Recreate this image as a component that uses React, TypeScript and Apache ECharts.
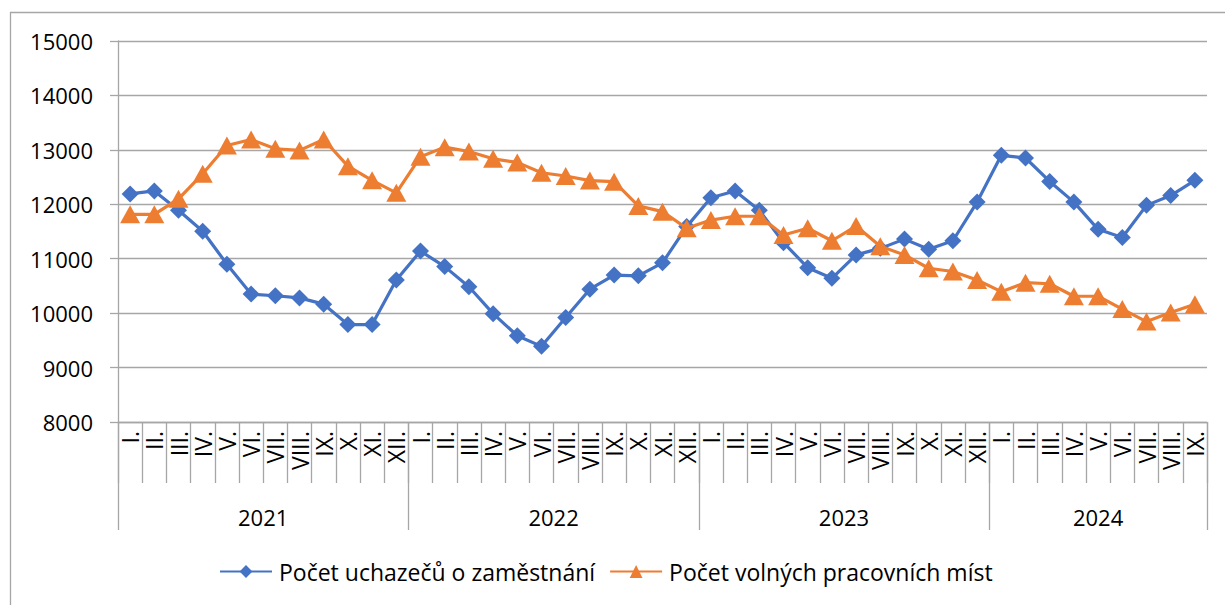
import React, { useEffect, useRef } from "react";
import * as echarts from "echarts";

const romanMonths = ["I.", "II.", "III.", "IV.", "V.", "VI.", "VII.", "VIII.", "IX.", "X.", "XI.", "XII."];
const years = ["2021", "2022", "2023", "2024"];
const monthsPerYear = [12, 12, 12, 9];

const uchazeci = [
  12190, 12245, 11890, 11505, 10900, 10350, 10320, 10280, 10165, 9790, 9790, 10610,
  11140, 10855, 10485, 9990, 9585, 9390, 9920, 10440, 10700, 10685, 10925, 11590,
  12120, 12245, 11890, 11295, 10835, 10640, 11070, 11190, 11360, 11175, 11330, 12040,
  12900, 12850, 12420, 12040, 11540, 11390, 11980, 12160, 12440,
];
const volnaMista = [
  11815, 11815, 12100, 12560, 13080, 13190, 13020, 12990, 13190, 12700, 12440, 12210,
  12875, 13050, 12970, 12835, 12770, 12580, 12520, 12435, 12415, 11970, 11865, 11560,
  11710, 11780, 11780, 11435, 11560, 11330, 11600, 11230, 11070, 10825, 10765, 10610,
  10395, 10560, 10540, 10310, 10310, 10075, 9845, 10010, 10165,
];
const yTicks = [8000, 9000, 10000, 11000, 12000, 13000, 14000, 15000];
const seriesNames = ["Počet uchazečů o zaměstnání", "Počet volných pracovních míst"];

const FONT = "'Open Sans', 'Liberation Sans', sans-serif";
const GRAY = "#a6a6a6";

export default function App() {
  const ref = useRef<HTMLDivElement>(null);
  useEffect(() => {
    if (!ref.current) return;
    const chart = echarts.init(ref.current, null, { renderer: "svg" });

    const categories: string[] = [];
    const boundaries: number[] = [0];
    const centers: number[] = [];
    let acc = 0;
    monthsPerYear.forEach((n) => {
      for (let i = 0; i < n; i++) categories.push(romanMonths[i]);
      centers.push(acc + n / 2);
      acc += n;
      boundaries.push(acc);
    });
    const total = acc;

    chart.setOption({
      animation: false,
      textStyle: { fontFamily: FONT },
      graphic: [
        {
          type: "rect",
          shape: { x: 10.5, y: 12.5, width: 1400, height: 800 },
          style: { fill: "none", stroke: GRAY, lineWidth: 1.3 },
          silent: true,
        },
      ],
      grid: { left: 118, top: 41, right: 18, bottom: 183, containLabel: false },
      legend: {
        bottom: 17,
        left: 214,
        itemWidth: 52,
        itemHeight: 16,
        itemGap: 14,
        textStyle: { fontSize: 23, color: "#000", fontFamily: FONT, padding: [0, 0, 0, 2] },
        data: seriesNames,
      },
      xAxis: [
        {
          type: "category",
          data: categories,
          boundaryGap: true,
          axisLine: { show: true, lineStyle: { color: GRAY, width: 1.3 } },
          axisTick: { show: true, interval: 0, length: 61, lineStyle: { color: GRAY, width: 1.3 } },
          axisLabel: {
            interval: 0,
            rotate: 90,
            fontSize: 23,
            color: "#000",
            margin: 9,
            fontFamily: FONT,
          },
          splitLine: { show: false },
        },
        {
          type: "value",
          min: 0,
          max: total,
          position: "bottom",
          axisLine: { show: false },
          axisTick: {
            show: true,
            length: 108,
            customValues: boundaries,
            lineStyle: { color: GRAY, width: 1.3 },
          },
          axisLabel: {
            show: true,
            customValues: centers,
            margin: 84,
            fontSize: 22,
            color: "#000",
            fontFamily: FONT,
            formatter: (v: number) => {
              const idx = centers.findIndex((c) => Math.abs(c - v) < 1e-6);
              return idx >= 0 ? years[idx] : "";
            },
          },
          splitLine: { show: false },
        },
      ],
      yAxis: {
        type: "value",
        min: yTicks[0],
        max: yTicks[yTicks.length - 1],
        interval: 1000,
        axisLine: { show: true, lineStyle: { color: GRAY, width: 1.3 } },
        axisTick: { show: true, length: 8, lineStyle: { color: GRAY, width: 1.3 } },
        axisLabel: {
          fontSize: 22,
          color: "#000",
          margin: 25,
          fontFamily: FONT,
          formatter: (v: number) => String(v),
        },
        splitLine: { show: true, lineStyle: { color: GRAY, width: 1.3 } },
      },
      series: [
        {
          name: seriesNames[0],
          type: "line",
          xAxisIndex: 0,
          data: uchazeci,
          symbol: "diamond",
          symbolSize: 17,
          lineStyle: { color: "#4472C4", width: 3.2 },
          itemStyle: { color: "#4472C4" },
          z: 2,
        },
        {
          name: seriesNames[1],
          type: "line",
          xAxisIndex: 0,
          data: volnaMista,
          symbol: "triangle",
          symbolSize: [20, 18],
          lineStyle: { color: "#ED7D31", width: 3.2 },
          itemStyle: { color: "#ED7D31" },
          z: 3,
        },
      ],
    });
    return () => chart.dispose();
  }, []);
  return (
    <div
      ref={ref}
      style={{ position: "fixed", left: 0, top: 0, width: 1225, height: 605, background: "#fff" }}
    />
  );
}
